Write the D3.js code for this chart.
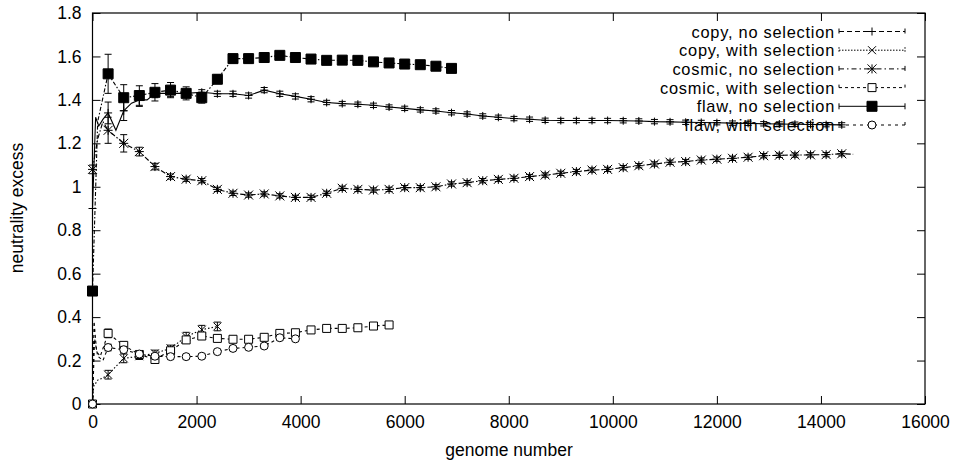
<!DOCTYPE html>
<html>
<head>
<meta charset="utf-8">
<script src="https://cdn.jsdelivr.net/npm/d3@7"></script>
<style>
  body { margin: 0; background: #fff; }
  text { font-family: "Liberation Sans", Arial, sans-serif; fill: #000; }
</style>
</head>
<body>
<div id="chart"></div>
<script>
// Data: [genome number, neutrality excess, error]
// ==============================
var copyNoSelection = [
  [0, 0.9, 0], [60, 1.32, 0], [120, 1.28, 0], [200, 1.31, 0], [300, 1.34, 0.05],
  [450, 1.26, 0], [600, 1.35, 0.045], [750, 1.385, 0], [900, 1.40, 0.03], [1050, 1.40, 0],
  [1200, 1.43, 0.02], [1500, 1.43, 0.015], [1800, 1.43, 0.015], [2100, 1.435, 0.012],
  [2400, 1.428, 0.012], [2700, 1.428, 0.012], [3000, 1.42, 0.012], [3300, 1.445, 0.012],
  [3600, 1.428, 0.012], [3900, 1.416, 0.012], [4200, 1.403, 0.012], [4500, 1.388, 0.01],
  [4800, 1.383, 0.01], [5100, 1.38, 0.01], [5400, 1.375, 0.01], [5700, 1.367, 0.01],
  [6000, 1.361, 0.01], [6300, 1.354, 0.01], [6600, 1.349, 0.01], [6900, 1.341, 0.01],
  [7200, 1.335, 0.01], [7500, 1.326, 0.01], [7800, 1.32, 0.01], [8100, 1.314, 0.01],
  [8400, 1.311, 0.01], [8700, 1.306, 0.01], [9000, 1.305, 0.01], [9300, 1.305, 0.01],
  [9600, 1.305, 0.01], [9900, 1.305, 0.01], [10200, 1.304, 0.01], [10500, 1.303, 0.01],
  [10800, 1.300, 0.01], [11100, 1.299, 0.01], [11400, 1.297, 0.01], [11700, 1.296, 0.01],
  [12000, 1.295, 0.01], [12300, 1.293, 0.01], [12600, 1.292, 0.01], [12900, 1.290, 0.01],
  [13200, 1.289, 0.01], [13500, 1.288, 0.01], [13800, 1.287, 0.01], [14100, 1.286, 0.01],
  [14400, 1.285, 0.01]
];

var copyWithSelection = [
  [0, 0, 0], [20, 0.08, 0], [100, 0.11, 0], [200, 0.12, 0], [300, 0.135, 0.02],
  [600, 0.21, 0.02], [900, 0.22, 0.015], [1200, 0.233, 0.015], [1500, 0.256, 0.015],
  [1800, 0.31, 0.02], [2100, 0.342, 0.02], [2400, 0.357, 0.02]
];

var cosmicNoSelection = [
  [0, 1.08, 0.02], [100, 1.22, 0], [200, 1.3, 0], [300, 1.26, 0.06], [600, 1.2, 0.04],
  [900, 1.162, 0.02], [1200, 1.093, 0.015], [1500, 1.047, 0.012], [1800, 1.035, 0.01],
  [2100, 1.028, 0.01], [2400, 0.988, 0.01], [2700, 0.97, 0.01], [3000, 0.962, 0.01],
  [3300, 0.967, 0.01], [3600, 0.958, 0.01], [3900, 0.951, 0.01], [4200, 0.951, 0.01],
  [4500, 0.97, 0.01], [4800, 0.993, 0.01], [5100, 0.988, 0.01], [5400, 0.985, 0.01],
  [5700, 0.988, 0.01], [6000, 0.996, 0.01], [6300, 0.996, 0.01], [6600, 1.0, 0.01],
  [6900, 1.013, 0.01], [7200, 1.019, 0.01], [7500, 1.028, 0.01], [7800, 1.034, 0.01],
  [8100, 1.039, 0.01], [8400, 1.047, 0.01], [8700, 1.054, 0.01], [9000, 1.062, 0.01],
  [9300, 1.07, 0.01], [9600, 1.077, 0.01], [9900, 1.08, 0.01], [10200, 1.088, 0.01],
  [10500, 1.097, 0.01], [10800, 1.105, 0.01], [11100, 1.113, 0.01], [11400, 1.116, 0.01],
  [11700, 1.123, 0.01], [12000, 1.127, 0.01], [12300, 1.131, 0.01], [12600, 1.136, 0.01],
  [12900, 1.143, 0.01], [13200, 1.145, 0.01], [13500, 1.146, 0.01], [13800, 1.147, 0.01],
  [14100, 1.148, 0.01], [14400, 1.152, 0.01], [14620, 1.15, 0]
];

var cosmicWithSelection = [
  [0, 0, 0], [30, 0.38, 0], [80, 0.24, 0], [150, 0.22, 0], [300, 0.325, 0.02],
  [600, 0.27, 0.015], [900, 0.228, 0.015], [1200, 0.205, 0.015], [1500, 0.245, 0.015],
  [1800, 0.295, 0.015], [2100, 0.313, 0.015], [2400, 0.302, 0.015], [2700, 0.298, 0.012],
  [3000, 0.298, 0.012], [3300, 0.307, 0.012], [3600, 0.325, 0.012], [3900, 0.328, 0.012],
  [4200, 0.341, 0.01], [4500, 0.348, 0.01], [4800, 0.348, 0.01], [5100, 0.351, 0.01],
  [5400, 0.359, 0.01], [5700, 0.364, 0.01]
];

var flawNoSelection = [
  [0, 0.52, 0], [100, 1.3, 0], [300, 1.52, 0.09], [600, 1.41, 0.06], [900, 1.42, 0.045],
  [1200, 1.435, 0.04], [1500, 1.445, 0.035], [1800, 1.43, 0.03], [2100, 1.41, 0.025],
  [2400, 1.495, 0.02], [2700, 1.59, 0.02], [3000, 1.59, 0.02], [3300, 1.595, 0.02],
  [3600, 1.605, 0.015], [3900, 1.595, 0.012], [4200, 1.588, 0.01], [4500, 1.582, 0.01],
  [4800, 1.583, 0.01], [5100, 1.582, 0.01], [5400, 1.575, 0.01], [5700, 1.57, 0.01],
  [6000, 1.565, 0.01], [6300, 1.562, 0.01], [6600, 1.555, 0.01], [6900, 1.545, 0.01]
];

var flawWithSelection = [
  [0, 0, 0], [40, 0.3, 0], [100, 0.22, 0], [200, 0.2, 0], [300, 0.26, 0.015],
  [600, 0.25, 0.015], [900, 0.23, 0.012], [1200, 0.22, 0.012], [1500, 0.218, 0.012],
  [1800, 0.218, 0.01], [2100, 0.22, 0.01], [2400, 0.241, 0.01], [2700, 0.256, 0.01],
  [3000, 0.261, 0.01], [3300, 0.267, 0.01], [3600, 0.305, 0.01], [3900, 0.3, 0.01]
];

var seriesNames = ["copy, no selection", "copy, with selection", "cosmic, no selection",
  "cosmic, with selection", "flaw, no selection", "flaw, with selection"];

var xTicks = [0, 2000, 4000, 6000, 8000, 10000, 12000, 14000, 16000];
var yTicks = [0, 0.2, 0.4, 0.6, 0.8, 1, 1.2, 1.4, 1.6, 1.8];

// Chart area
// ==============================
var svgWidth = 956;
var svgHeight = 461;
var margin = { top: 13, right: 31, bottom: 57, left: 92.5 };
var width = svgWidth - margin.left - margin.right;
var height = svgHeight - margin.top - margin.bottom;

var svg = d3.select("#chart")
  .append("svg")
  .attr("width", svgWidth)
  .attr("height", svgHeight);

var chartGroup = svg.append("g")
  .attr("transform", `translate(${margin.left}, ${margin.top})`);

var xScale = d3.scaleLinear().domain([0, 16000]).range([0, width]);
var yScale = d3.scaleLinear().domain([0, 1.8]).range([height, 0]);

// marker shapes, gnuplot style
function marker(type, s) {
  switch (type) {
    case "plus": return `M${-s},0H${s}M0,${-s}V${s}`;
    case "cross": return `M${-s},${-s}L${s},${s}M${-s},${s}L${s},${-s}`;
    case "star": return `M${-s},0H${s}M0,${-s}V${s}M${-s},${-s}L${s},${s}M${-s},${s}L${s},${-s}`;
    case "box": return `M${-s},${-s}H${s}V${s}H${-s}Z`;
    case "circle": return `M${-s},0A${s},${s} 0 1,0 ${s},0A${s},${s} 0 1,0 ${-s},0Z`;
  }
}

var styles = [
  { data: copyNoSelection, mark: "plus", size: 4, fill: "none", dash: null, legendDash: "5,3" },
  { data: copyWithSelection, mark: "cross", size: 4, fill: "none", dash: "1.5,2", legendDash: "1.5,1.5" },
  { data: cosmicNoSelection, mark: "star", size: 4.5, fill: "none", dash: "5,2,1.5,2", legendDash: "5,3,1.5,3" },
  { data: cosmicWithSelection, mark: "box", size: 4, fill: "#fff", dash: "3,3", legendDash: "3,3" },
  { data: flawNoSelection, mark: "box", size: 5, fill: "#000", dash: "4,2,1.5,2", legendDash: null },
  { data: flawWithSelection, mark: "circle", size: 4, fill: "#fff", dash: "3,3", legendDash: "3,4" }
];

// Axes with inward ticks on all four sides
// ==============================
chartGroup.append("g")
  .attr("transform", `translate(0, ${height})`)
  .call(d3.axisBottom(xScale).tickValues(xTicks).tickSizeInner(-8).tickSizeOuter(0).tickPadding(12)
    .tickFormat(d3.format("d")))
  .call(g => g.select(".domain").remove());

chartGroup.append("g")
  .call(d3.axisLeft(yScale).tickValues(yTicks).tickSizeInner(-8).tickSizeOuter(0).tickPadding(11)
    .tickFormat(d => String(+d.toFixed(1))))
  .call(g => g.select(".domain").remove());

chartGroup.append("g")
  .call(d3.axisTop(xScale).tickValues(xTicks).tickSizeInner(-8).tickSizeOuter(0).tickFormat(""))
  .call(g => g.select(".domain").remove());

chartGroup.append("g")
  .attr("transform", `translate(${width}, 0)`)
  .call(d3.axisRight(yScale).tickValues(yTicks).tickSizeInner(-8).tickSizeOuter(0).tickFormat(""))
  .call(g => g.select(".domain").remove());

chartGroup.selectAll(".tick text")
  .style("font-family", '"Liberation Sans", Arial, sans-serif')
  .style("font-size", "17.5px");
chartGroup.selectAll(".tick line").attr("stroke", "#000");

chartGroup.append("rect")
  .attr("width", width)
  .attr("height", height)
  .attr("fill", "none")
  .attr("stroke", "#000")
  .attr("stroke-width", 1.2);

// Legend (drawn first so the curves run over it, as in the original)
// ==============================
var legend = chartGroup.append("g")
  .attr("transform", `translate(${835 - margin.left}, ${31.5 - margin.top})`);

styles.forEach(function(st, i) {
  var row = legend.append("g").attr("transform", `translate(0, ${i * 18.7})`);
  row.append("text")
    .attr("x", 0)
    .attr("y", 6)
    .attr("text-anchor", "end")
    .style("font-size", "16.4px")
    .style("letter-spacing", "0.75px")
    .text(seriesNames[i]);
  row.append("path")
    .attr("d", "M4,0H70M4,-3V3M70,-3V3")
    .attr("fill", "none")
    .attr("stroke", "#000")
    .attr("stroke-dasharray", st.legendDash);
  row.append("path")
    .attr("d", marker(st.mark, st.size))
    .attr("transform", "translate(37, 0)")
    .attr("fill", st.fill === "none" ? "none" : st.fill)
    .attr("stroke", "#000");
});

// Curves, error bars and markers
// ==============================
var line = d3.line()
  .x(d => xScale(d[0]))
  .y(d => yScale(d[1]));

styles.forEach(function(st) {
  var g = chartGroup.append("g");

  g.append("path")
    .datum(st.data)
    .attr("d", line)
    .attr("fill", "none")
    .attr("stroke", "#000")
    .attr("stroke-width", 1.1)
    .attr("stroke-dasharray", st.dash);

  var withErr = st.data.filter(d => d[2] > 0);
  g.selectAll(".err")
    .data(withErr)
    .enter()
    .append("path")
    .attr("class", "err")
    .attr("d", function(d) {
      var cx = xScale(d[0]);
      var y0 = yScale(d[1] - d[2]);
      var y1 = yScale(d[1] + d[2]);
      return `M${cx},${y0}V${y1}M${cx - 3.5},${y0}H${cx + 3.5}M${cx - 3.5},${y1}H${cx + 3.5}`;
    })
    .attr("fill", "none")
    .attr("stroke", "#000");

  // markers on the sampled points (every 300 genomes)
  g.selectAll(".mark")
    .data(st.data.filter(d => d[0] % 300 === 0))
    .enter()
    .append("path")
    .attr("class", "mark")
    .attr("d", marker(st.mark, st.size))
    .attr("transform", d => `translate(${xScale(d[0])}, ${yScale(d[1])})`)
    .attr("fill", st.fill)
    .attr("stroke", "#000");
});

// Axis labels
// ==============================
svg.append("text")
  .attr("transform", "rotate(-90)")
  .attr("x", -208)
  .attr("y", 23)
  .attr("text-anchor", "middle")
  .style("font-size", "17.5px")
  .text("neutrality excess");

svg.append("text")
  .attr("x", 509)
  .attr("y", 456)
  .attr("text-anchor", "middle")
  .style("font-size", "17.5px")
  .text("genome number");
</script>
</body>
</html>
